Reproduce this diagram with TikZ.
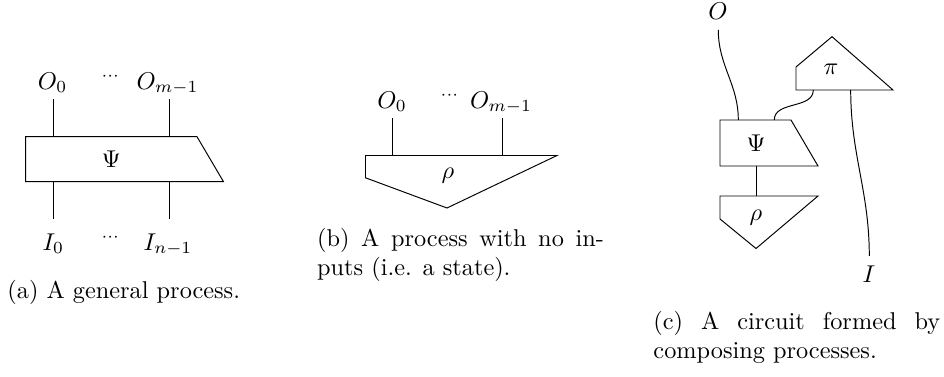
\documentclass[tikz,border=0pt]{standalone}
\begin{document}
\begin{tikzpicture}[x=0.41152pt, y=-0.41152pt,
  box/.style={draw, line width=0.4pt, line join=miter},
  wire/.style={draw, line width=0.4pt},
  lab/.style={inner sep=0pt, anchor=base},
  inlab/.style={inner sep=0pt},
  dotslab/.style={inner sep=0pt, anchor=base},
  captext/.style={inner sep=0pt, text width=118pt, align=justify, anchor=base west}]
\useasboundingbox (0,0) rectangle (944,377);

% ---------------- (a) general process ----------------
\draw[box] (25.7,136.7) -- (197,136.7) -- (223.5,181.7) -- (25.7,181.7) -- cycle;
\node[inlab] (aPsi) at (111.3,159.2) {$\Psi$};
\coordinate (aT0) at (53.3,136.7);
\coordinate (aT1) at (169.3,136.7);
\coordinate (aB0) at (53.3,181.7);
\coordinate (aB1) at (169.3,181.7);
\coordinate (aO0w) at (53.3,99.3);
\coordinate (aO1w) at (169.3,99.3);
\coordinate (aI0w) at (53.3,219.3);
\coordinate (aI1w) at (169.3,219.3);
\draw[wire] (aT0) -- (aO0w);
\draw[wire] (aT1) -- (aO1w);
\draw[wire] (aB0) -- (aI0w);
\draw[wire] (aB1) -- (aI1w);
\node[lab] (aO0) at (52.5,89.3) {$O_0$};
\node[lab] (aO1) at (167.5,89.3) {$O_{m-1}$};
\node[dotslab] (aOd) at (110.8,89.3) {$^{\cdots}$};
\node[lab] (aI0) at (53.3,250) {$I_0$};
\node[lab] (aI1) at (168,250) {$I_{n-1}$};
\node[dotslab] (aId) at (110.8,250) {$^{\cdots}$};
\node[inner sep=0pt, anchor=base west] (acap) at (7,298.3) {(a) A general process.};

% ---------------- (b) state ----------------
\draw[box] (365.5,155.5) -- (557,155.5) -- (447,208) -- (365.5,177.8) -- cycle;
\node[inlab] (bRho) at (448,175.5) {$\rho$};
\coordinate (bT0) at (392.7,155.5);
\coordinate (bT1) at (502.5,155.5);
\coordinate (bO0w) at (392.7,118.3);
\coordinate (bO1w) at (502.5,118.3);
\draw[wire] (bT0) -- (bO0w);
\draw[wire] (bT1) -- (bO1w);
\node[lab] (bO0) at (392,108.3) {$O_0$};
\node[lab] (bO1) at (501,108.3) {$O_{m-1}$};
\node[dotslab] (bOd) at (450,108.3) {$^{\cdots}$};
\node[captext] (bcap) at (316.7,246.7) {(b) A process with no in-\linebreak puts (i.e. a state).};

% ---------------- (c) circuit ----------------
\draw[box] (720,120) -- (791,120) -- (818,166) -- (720,166) -- cycle;
\node[inlab] (cPsi) at (756,143) {$\Psi$};
\draw[box] (720,196) -- (818,196) -- (756,248.5) -- (720,219) -- cycle;
\node[inlab] (cRho) at (756,218) {$\rho$};
\draw[box] (796,90) -- (796,67) -- (832,36.7) -- (893,90) -- cycle;
\node[inlab] (cPi) at (831,69) {$\pi$};
\coordinate (cPsiT0) at (738.3,120);
\coordinate (cPsiT1) at (774.3,120);
\coordinate (cPsiB) at (756,166);
\coordinate (cRhoT) at (756,196);
\coordinate (cPiB0) at (813.3,90);
\coordinate (cPiB1) at (850.7,90);
\coordinate (cOw) at (718.3,30);
\coordinate (cIw) at (869.3,256);
\node[lab] (cO) at (718,20) {$O$};
\node[lab] (cI) at (869,283) {$I$};
\draw[wire] (cOw) to[out=-90, in=90] (cPsiT0);
\draw[wire] (cPsiT1) to[out=90, in=-90] (cPiB0);
\draw[wire] (cPsiB) -- (cRhoT);
\draw[wire] (cPiB1) to[out=-90, in=90] (cIw);
\node[captext] (ccap) at (653,329.5) {(c) A circuit formed by\linebreak composing processes.};
\end{tikzpicture}
\end{document}
